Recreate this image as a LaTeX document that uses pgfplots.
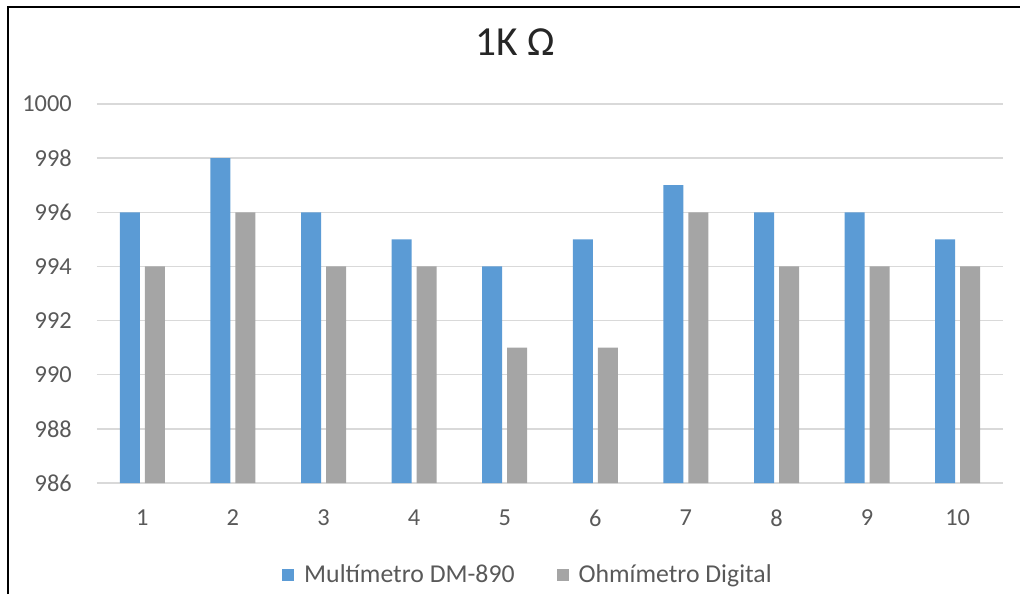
\documentclass[border=0pt]{standalone}
\usepackage{pgfplots}
\pgfplotsset{compat=1.18}
\usepackage{fontspec}
\setmainfont{Carlito}
\definecolor{serieA}{HTML}{5B9BD5}
\definecolor{serieB}{HTML}{A5A5A5}
\definecolor{gridc}{HTML}{D9D9D9}
\definecolor{textc}{HTML}{595959}
\definecolor{titlec}{HTML}{262626}

\pgfplotstableread{
n  dm   ohm
1  996  994
2  998  996
3  996  994
4  995  994
5  994  991
6  995  991
7  997  996
8  996  994
9  996  994
10 995  994
}\medidas

\begin{document}
\begin{tikzpicture}
\useasboundingbox (0,0) rectangle (765pt,445.5pt);
\begin{axis}[
  at={(72.75pt,83.25pt)}, anchor=south west,
  scale only axis,
  width=679.5pt, height=284.25pt,
  ybar=3.75pt, bar width=15pt,
  xmin=0.5, xmax=10.5,
  ymin=986, ymax=1000,
  xtick={1,...,10},
  ytick={986,988,...,1000},
  ymajorgrids,
  grid style={gridc, line width=1pt},
  axis line style={draw=none},
  major tick length=0pt,
  tick label style={font=\fontsize{18.3}{20}\selectfont, text=textc},
  /pgf/number format/assume math mode=true,
  /pgf/number format/1000 sep={},
  yticklabel style={anchor=east, inner sep=0pt, xshift=-18.75pt},
  xticklabel style={anchor=north, inner sep=0pt, yshift=-20pt},
  legend style={draw=none, fill=none, at={(0.4746,-0.2427)}, anchor=center,
    legend columns=2, font=\fontsize{19.3}{21}\selectfont, text=textc,
    /tikz/every even column/.append style={column sep=31.5pt},
    nodes={inner sep=0pt, anchor=west}},
  legend image code/.code={\fill[#1,draw=none] (0pt,-4.5pt) rectangle (9pt,4.5pt);},
  /pgfplots/legend cell align=left,
]
\addplot[fill=serieA, draw=none] table[x=n, y=dm] {\medidas};
\addplot[fill=serieB, draw=none] table[x=n, y=ohm] {\medidas};
\legend{\hspace{7.5pt}Multímetro DM-890, \hspace{7.5pt}Ohmímetro Digital}
\end{axis}
\node[anchor=base, inner sep=0pt, text=titlec, font=\fontsize{31}{34}\selectfont] at (386.5pt,403.5pt) {1K Ω};
\draw[black, line width=2pt] (6pt,0) -- (6pt,440.25pt) -- (765pt,440.25pt);
\end{tikzpicture}
\end{document}
